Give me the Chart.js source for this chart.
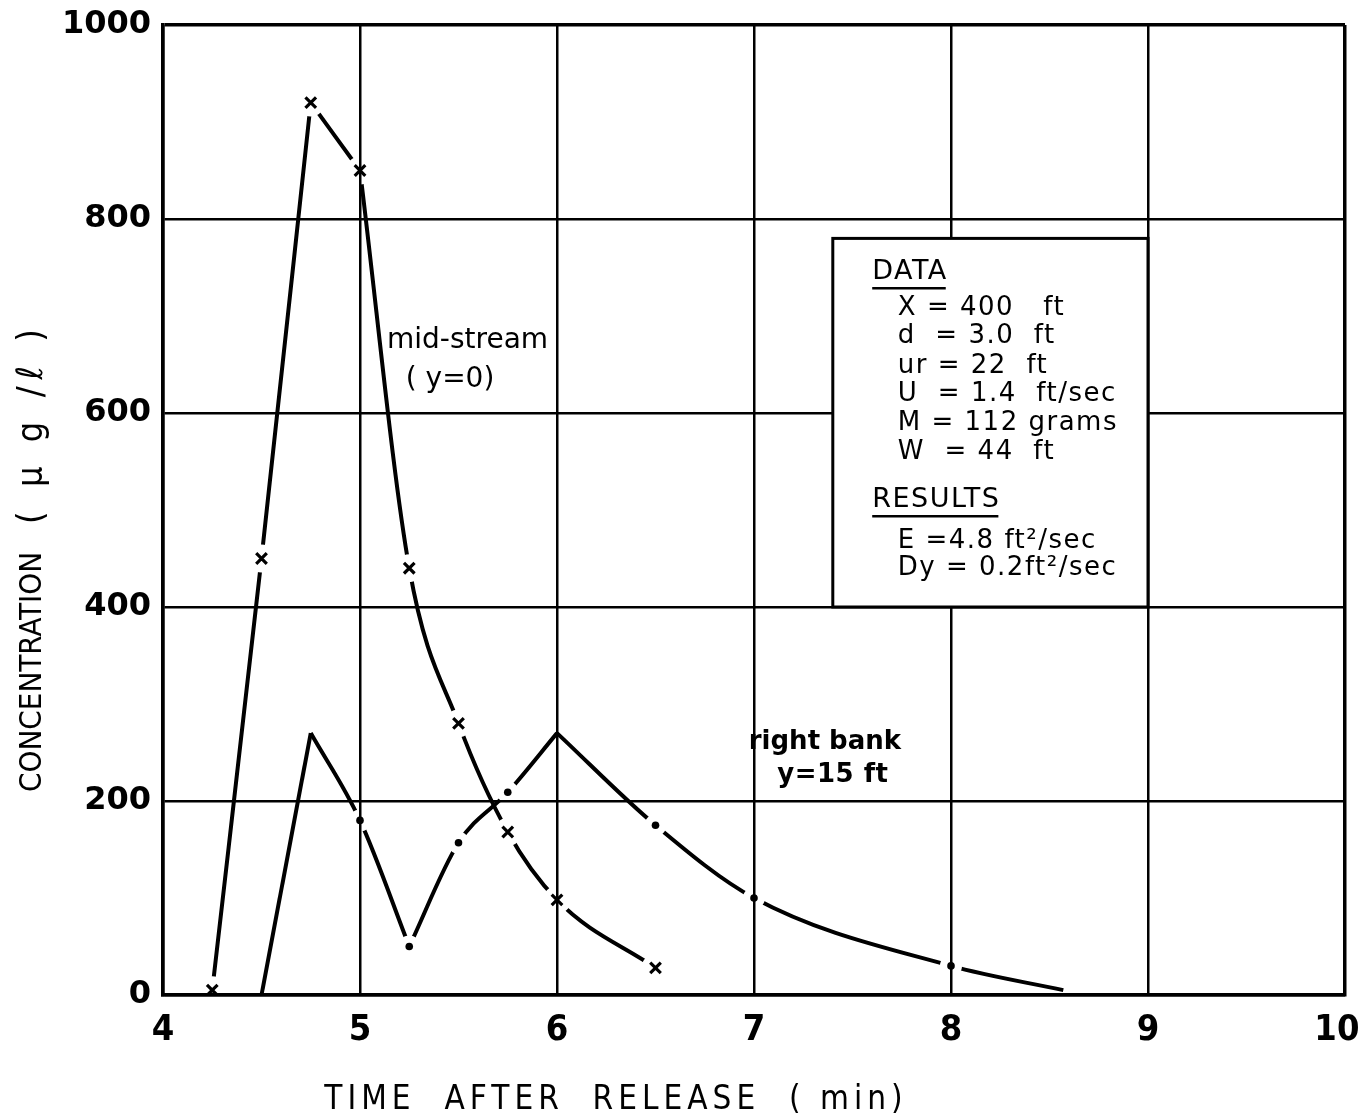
<!DOCTYPE html>
<html><head><meta charset="utf-8">
<script src="https://cdn.jsdelivr.net/npm/chart.js@4.4.1/dist/chart.umd.min.js"></script>
<style>html,body{margin:0;padding:0;background:#fff;}#wrap{width:1362px;height:1118px;}</style>
</head><body><div id="wrap"><canvas id="c" width="1362" height="1118"></canvas></div>
<script>
// ---- data ----
const midTimes = [4.25, 4.5, 4.75, 5.0, 5.25, 5.5, 5.75, 6.0, 6.5];
const midConc  = [5, 450, 920, 850, 440, 280, 168, 98, 28];
const midBreaks = [4.75, 5.0];
const rightTimes = [4.5, 4.75, 5.0, 5.25, 5.5, 5.75, 6.0, 6.5, 7.0, 8.0, 8.57];
const rightConc  = [0, 270, 180, 50, 157, 209, 270, 175, 100, 30, 5];
const rightBreaks = [4.75, 5.25, 6.0];
const rightMarkerTimes = [5.0, 5.25, 5.5, 5.75, 6.5, 7.0, 8.0];
const xTicks = [4, 5, 6, 7, 8, 9, 10];
const yTicks = [0, 200, 400, 600, 800, 1000];
const xTitle = 'TIME  AFTER  RELEASE  ( min)';
const yTitleMain = 'CONCENTRATION';
const yTitleUnit = '( \u03BC g /\u2113 )';
const dataLines = ['X = 400   ft', 'd  = 3.0  ft', 'ur = 22  ft', 'U  = 1.4  ft/sec', 'M = 112 grams', 'W  = 44  ft'];
const resultLines = ['E =4.8 ft\u00B2/sec', 'Dy = 0.2ft\u00B2/sec'];

function split(xs, ys, breaks) {
  const segs = []; let cur = [];
  xs.forEach((x, i) => {
    cur.push({x: x, y: ys[i]});
    if (breaks.includes(x) && cur.length > 1) { segs.push(cur); cur = [{x: x, y: ys[i]}]; }
  });
  if (cur.length > 1) segs.push(cur);
  return segs;
}
const midPts = midTimes.map((t, i) => ({x: t, y: midConc[i]}));
const rightMarkPts = rightMarkerTimes.map(t => ({x: t, y: rightConc[rightTimes.indexOf(t)]}));

const datasets = [];
const gapSpecs = [];
split(midTimes, midConc, midBreaks).forEach(seg => {
  gapSpecs[datasets.length] = {pts: midPts, r: 14};
  datasets.push({data: seg, showLine: true, borderColor: '#000', borderWidth: 4, pointRadius: 0,
    cubicInterpolationMode: 'monotone'});
});
split(rightTimes, rightConc, rightBreaks).forEach(seg => {
  gapSpecs[datasets.length] = {pts: rightMarkPts, r: 11};
  datasets.push({data: seg, showLine: true, borderColor: '#000', borderWidth: 4, pointRadius: 0,
    cubicInterpolationMode: 'monotone'});
});
datasets.push({data: midPts, showLine: false, pointStyle: 'crossRot', pointRadius: 7.5,
  borderWidth: 3.2, borderColor: '#000', backgroundColor: '#000'});
datasets.push({data: rightMarkPts, showLine: false, pointStyle: 'circle', pointRadius: 3.8,
  borderWidth: 0, borderColor: '#000', backgroundColor: '#000'});

const gapPlugin = {
  id: 'gaps',
  beforeDatasetDraw(chart, args) {
    const idx = (args.meta && args.meta.index !== undefined) ? args.meta.index : args.index;
    const g = gapSpecs[idx];
    if (!g) return;
    const ctx = chart.ctx, sx = chart.scales.x, sy = chart.scales.y;
    const p = new Path2D();
    p.rect(0, 0, chart.width, chart.height);
    g.pts.forEach(pt => {
      const px = sx.getPixelForValue(pt.x), py = sy.getPixelForValue(pt.y);
      p.moveTo(px + g.r, py); p.arc(px, py, g.r, 0, Math.PI * 2, true);
    });
    ctx.save();
    ctx.clip(p, 'evenodd');
  },
  afterDatasetDraw(chart, args) {
    const idx = (args.meta && args.meta.index !== undefined) ? args.meta.index : args.index;
    if (!gapSpecs[idx]) return;
    chart.ctx.restore();
  }
};

const annot = {
  box: {x0: 7.40, x1: 9.0, y0: 400, y1: 780},
  dataHead: {x: 7.60, y: 745, text: 'DATA'},
  resHead: {x: 7.60, y: 510, text: 'RESULTS'},
  itemX: 7.73,
  dataY: [708, 679, 648, 619, 589, 560],
  resY: [468, 440],
  labels: [
    {x: 5.546, y: 675, text: 'mid-stream', font: '28px "DejaVu Sans", sans-serif', sp: '0px'},
    {x: 5.457, y: 634, text: '( y=0)', font: '28px "DejaVu Sans", sans-serif', sp: '0px'},
    {x: 7.36, y: 261, text: 'right bank', font: 'bold 26px "DejaVu Sans", sans-serif', sp: '0px'},
    {x: 7.40, y: 227, text: 'y=15 ft', font: 'bold 26px "DejaVu Sans", sans-serif', sp: '0.5px'}
  ]
};
const annotPlugin = {
  id: 'annot',
  afterDraw(chart) {
    const ctx = chart.ctx, sx = chart.scales.x, sy = chart.scales.y;
    const X = v => sx.getPixelForValue(v), Y = v => sy.getPixelForValue(v);
    ctx.save();
    const b = annot.box;
    ctx.fillStyle = '#fff'; ctx.strokeStyle = '#000'; ctx.lineWidth = 3;
    ctx.fillRect(X(b.x0), Y(b.y1), X(b.x1) - X(b.x0), Y(b.y0) - Y(b.y1));
    ctx.strokeRect(X(b.x0), Y(b.y1), X(b.x1) - X(b.x0), Y(b.y0) - Y(b.y1));
    ctx.fillStyle = '#000'; ctx.textBaseline = 'middle'; ctx.textAlign = 'left';
    ctx.font = '27px "DejaVu Sans", sans-serif';
    ctx.letterSpacing = '1.5px';
    [annot.dataHead, annot.resHead].forEach(h => {
      const px = X(h.x), py = Y(h.y);
      ctx.fillText(h.text, px, py);
      const w = ctx.measureText(h.text).width;
      ctx.lineWidth = 2.5; ctx.beginPath(); ctx.moveTo(px, py + 16); ctx.lineTo(px + w - 2, py + 16); ctx.stroke();
    });
    ctx.font = '26px "DejaVu Sans", sans-serif';
    ctx.letterSpacing = '1.5px';
    dataLines.forEach((t, i) => ctx.fillText(t, X(annot.itemX), Y(annot.dataY[i])));
    resultLines.forEach((t, i) => ctx.fillText(t, X(annot.itemX), Y(annot.resY[i])));
    ctx.textAlign = 'center';
    annot.labels.forEach(l => {
      ctx.font = l.font; ctx.letterSpacing = l.sp;
      ctx.fillText(l.text, X(l.x), Y(l.y));
    });
    // axis titles
    ctx.font = '33px "DejaVu Sans Condensed", sans-serif';
    ctx.letterSpacing = '5px';
    ctx.fillText(xTitle, 616, 1100);
    ctx.translate(33, 0); ctx.rotate(-Math.PI / 2);
    ctx.textAlign = 'left';
    ctx.font = '31px "DejaVu Sans Condensed", sans-serif';
    ctx.letterSpacing = '0px';
    ctx.fillText(yTitleMain, -792, 0);
    ctx.font = '36px "DejaVu Sans Condensed", sans-serif';
    ctx.letterSpacing = '7px';
    ctx.fillText(yTitleUnit, -524, 0);
    ctx.restore();
  }
};

new Chart(document.getElementById('c'), {
  type: 'scatter',
  data: {datasets: datasets},
  options: {
    responsive: false, animation: false, devicePixelRatio: 1,
    layout: {padding: {top: 25, right: 17, left: 0, bottom: 0}},
    plugins: {legend: {display: false}, tooltip: {enabled: false}},
    scales: {
      x: {
        type: 'linear', min: 4, max: 10,
        afterBuildTicks: s => { s.ticks = xTicks.map(v => ({value: v})); },
        ticks: {color: '#000', padding: 14, maxRotation: 0, autoSkip: false,
          callback: v => (v === xTicks[xTicks.length - 1] ? String(v) + '\u2002' : String(v)),
          font: {family: '"DejaVu Sans Condensed", "DejaVu Sans", sans-serif', size: 36, weight: 'bold'}},
        grid: {color: '#000', lineWidth: c => (c.index === xTicks.length - 1 ? 3.5 : 2.5), drawTicks: false},
        border: {color: '#000', width: 3.5},
        afterFit: s => { s.height = 123; s.paddingLeft = 0; s.paddingRight = 0; }
      },
      y: {
        type: 'linear', min: 0, max: 1000,
        afterBuildTicks: s => { s.ticks = yTicks.map(v => ({value: v})); },
        ticks: {color: '#000', padding: 12, callback: v => String(v),
          font: {family: '"DejaVu Sans", sans-serif', size: 32, weight: 'bold'}},
        grid: {color: '#000', lineWidth: c => (c.index === yTicks.length - 1 ? 3.5 : 2.5), drawTicks: false},
        border: {color: '#000', width: 3.5},
        afterFit: s => { s.width = 163; s.paddingTop = 0; s.paddingBottom = 0; }
      }
    }
  },
  plugins: [gapPlugin, annotPlugin]
});
</script></body></html>
